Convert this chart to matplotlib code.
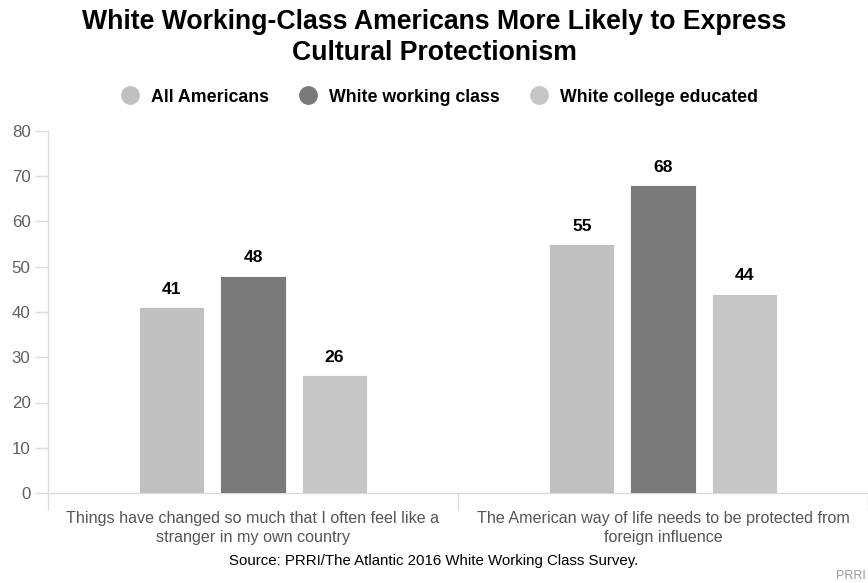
import matplotlib
matplotlib.use("Agg")
import matplotlib.pyplot as plt
from matplotlib.lines import Line2D
import numpy as np

plt.rcParams['font.family'] = ['Liberation Sans', 'DejaVu Sans']

categories = [
    "Things have changed so much that I often feel like a\nstranger in my own country",
    "The American way of life needs to be protected from\nforeign influence",
]
series_names = ["All Americans", "White working class", "White college educated"]
all_americans = [41, 55]
white_working_class = [48, 68]
white_college = [26, 44]
series_values = [all_americans, white_working_class, white_college]
series_colors = ["#c0c0c0", "#7a7a7a", "#c6c6c6"]
y_ticks = [0, 10, 20, 30, 40, 50, 60, 70, 80]

W, H = 868, 583
fig = plt.figure(figsize=(W / 100, H / 100), dpi=100)
ax = fig.add_axes([48 / W, (H - 493) / H, 1 - 48 / W, (493 - 131) / H])

centers = np.arange(len(categories)) + 0.5
offset = 0.198
width = 0.159
for i, (vals, col) in enumerate(zip(series_values, series_colors)):
    xs = centers + (i - 1) * offset
    ax.bar(xs, vals, width=width, color=col, edgecolor="white", linewidth=0.6, zorder=3)
    for x, v in zip(xs, vals):
        ax.annotate(f"{v}", (x, v), xytext=(0, 7.5), textcoords="offset points",
                    ha="center", va="bottom", fontsize=12.6, fontweight="bold", color="black")

ax.set_xlim(0, len(categories))
ax.set_ylim(0, 80)
ax.set_yticks(y_ticks)
ax.set_yticklabels([str(t) for t in y_ticks], fontsize=12.2, color="#606060")
ax.tick_params(axis="y", direction="out", length=9.5, width=1, color="#dcdcdc", pad=3)

# category boundaries as x ticks, labels at the centers as minor ticks
ax.set_xticks(np.arange(len(categories) + 1))
ax.set_xticklabels([""] * (len(categories) + 1))
ax.tick_params(axis="x", which="major", direction="out", length=12, width=1, color="#dcdcdc")
ax.set_xticks(centers, minor=True)
ax.set_xticklabels(categories, minor=True, fontsize=11.6, color="#555555", linespacing=1.35)
ax.tick_params(axis="x", which="minor", length=0, pad=13)

for side in ["top", "right"]:
    ax.spines[side].set_visible(False)
for side in ["left", "bottom"]:
    ax.spines[side].set_color("#dcdcdc")
    ax.spines[side].set_linewidth(1)

fig.text(0.5, 1 - 37.5 / H, "White Working-Class Americans More Likely to Express\nCultural Protectionism",
         ha="center", va="center", fontsize=19.2, fontweight="bold", color="black", linespacing=1.25)

handles = [Line2D([0], [0], marker="o", linestyle="", markersize=12.5, markerfacecolor=c,
                  markeredgecolor=c) for c in series_colors]
fig.legend(handles, series_names, loc="center", bbox_to_anchor=(0.5 + 3.5 / W, 1 - 97 / H),
           ncol=3, frameon=False, handletextpad=0.44, columnspacing=1.45, handlelength=1.5,
           prop={"size": 12.8, "weight": "bold"})

fig.text(0.5, 1 - 561 / H, "Source: PRRI/The Atlantic 2016 White Working Class Survey.",
         ha="center", va="center", fontsize=10.8, color="black")
fig.text(866 / W, 1 - 576 / H, "PRRI", ha="right", va="center", fontsize=9, color="#999999")

fig.savefig("out.png", dpi=100)
